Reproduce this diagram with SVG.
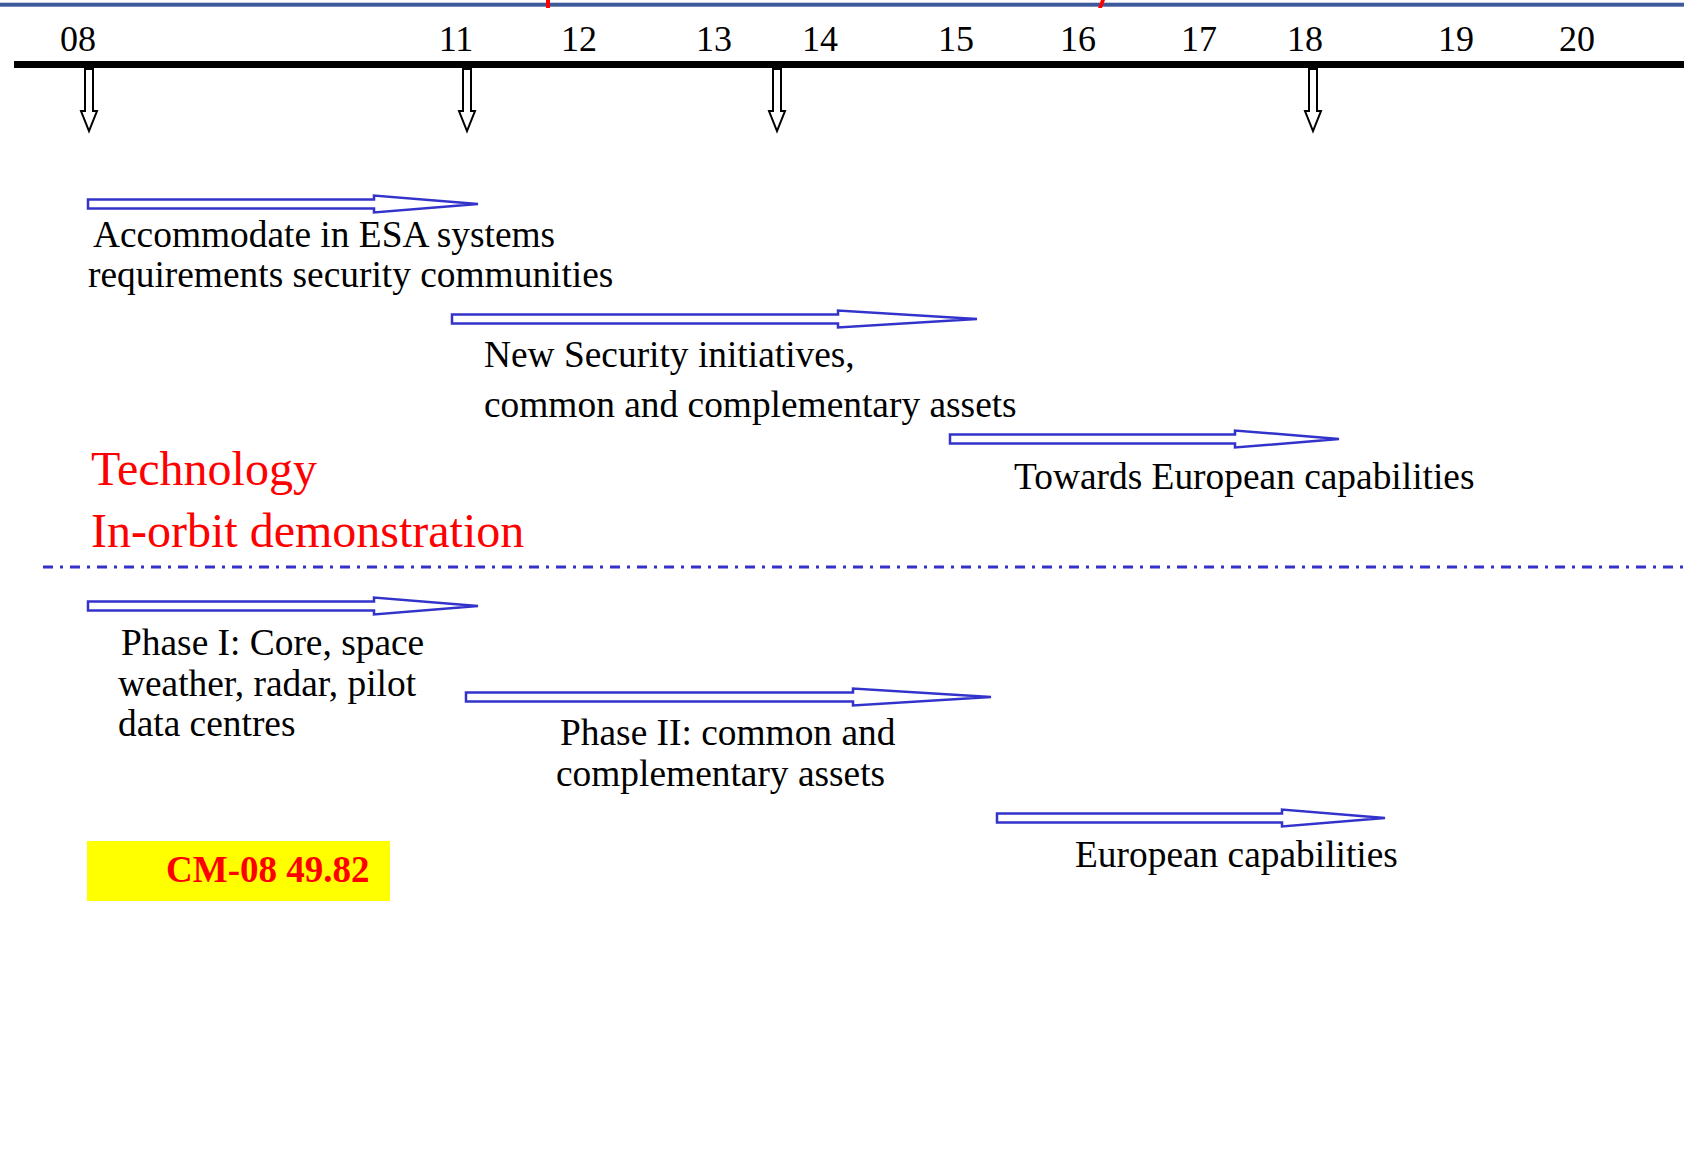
<svg xmlns="http://www.w3.org/2000/svg" width="1684" height="1169" viewBox="0 0 1684 1169">
  <style>
    .t { font-family: "Liberation Serif", "Times New Roman", serif; fill: #000; }
    .body { font-size: 37.4px; }
    .year { font-size: 36px; text-anchor: middle; }
    .red { font-size: 48px; fill: #ff0000; }
    .span { fill: #ffffff; stroke: #3333cc; stroke-width: 2.5; stroke-linejoin: miter; }
    .mark { fill: #ffffff; stroke: #000; stroke-width: 2; }
  </style>
  <defs>
    <!-- horizontal block arrow, 0..390 long, centred on y=0 -->
    <polygon id="span-short" class="span" points="0,-4.5 286,-4.5 286,-8.5 390,0 286,8.5 286,4.5 0,4.5"/>
    <!-- vertical milestone arrow pointing down -->
    <polygon id="milestone" class="mark" points="-4,0 4,0 4,42 8,42 0,62 -8,42 -4,42"/>
  </defs>

  <rect x="0" y="0" width="1684" height="1169" fill="#ffffff"/>

  <!-- header rule with red ticks -->
  <g id="header">
    <rect x="0" y="2.7" width="1684" height="4" fill="#3f5a9c"/>
    <rect x="546" y="0" width="4" height="8" fill="#ff0000"/>
    <polygon points="1101,0 1105,0 1102,8 1098,8" fill="#ff0000"/>
  </g>

  <!-- timeline axis and years -->
  <g id="timeline">
    <rect x="14" y="61" width="1670" height="7" fill="#000"/>
    <text class="t year" x="78" y="51">08</text>
    <text class="t year" x="456" y="51">11</text>
    <text class="t year" x="579" y="51">12</text>
    <text class="t year" x="714" y="51">13</text>
    <text class="t year" x="820" y="51">14</text>
    <text class="t year" x="956" y="51">15</text>
    <text class="t year" x="1078" y="51">16</text>
    <text class="t year" x="1199" y="51">17</text>
    <text class="t year" x="1305" y="51">18</text>
    <text class="t year" x="1456" y="51">19</text>
    <text class="t year" x="1577" y="51">20</text>
  </g>

  <g id="milestones">
    <use href="#milestone" x="89" y="69"/>
    <use href="#milestone" x="467" y="69"/>
    <use href="#milestone" x="777" y="69"/>
    <use href="#milestone" x="1313" y="69"/>
  </g>

  <!-- span arrows -->
  <g id="connectors">
    <use href="#span-short" x="88" y="204"/>
    <polygon class="span" points="452,314.5 838,314.5 838,310.5 977,319 838,327.5 838,323.5 452,323.5"/>
    <polygon class="span" points="950,434.5 1235,434.5 1235,430.5 1339,439 1235,447.5 1235,443.5 950,443.5"/>
    <use href="#span-short" x="88" y="606"/>
    <polygon class="span" points="466,692.5 853,692.5 853,688.5 991,697 853,705.5 853,701.5 466,701.5"/>
    <polygon class="span" points="997,813.5 1282,813.5 1282,809.5 1385,818 1282,826.5 1282,822.5 997,822.5"/>
  </g>

  <g id="accommodate">
    <text class="t body" x="93" y="247">Accommodate in ESA systems</text>
    <text class="t body" x="88" y="287">requirements security communities</text>
  </g>

  <g id="new-security">
    <text class="t body" x="484" y="367">New Security initiatives,</text>
    <text class="t body" x="484" y="417">common and complementary assets</text>
  </g>

  <g id="towards-european">
    <text class="t body" x="1014" y="489">Towards European capabilities</text>
  </g>

  <g id="technology">
    <text class="t red" x="91" y="485">Technology</text>
    <text class="t red" x="91" y="547">In-orbit demonstration</text>
  </g>

  <!-- section divider -->
  <line x1="43" y1="567" x2="1684" y2="567" stroke="#3333cc" stroke-width="3" stroke-dasharray="10,7,3,7"/>

  <g id="phase-1">
    <text class="t body" x="121" y="655">Phase I: Core, space</text>
    <text class="t body" x="118" y="696">weather, radar, pilot</text>
    <text class="t body" x="118" y="736">data centres</text>
  </g>

  <g id="phase-2">
    <text class="t body" x="560" y="745">Phase II: common and</text>
    <text class="t body" x="556" y="786">complementary assets</text>
  </g>

  <g id="european">
    <text class="t body" x="1075" y="867">European capabilities</text>
  </g>

  <g id="budget">
    <rect x="87" y="841" width="303" height="60" fill="#ffff00"/>
    <text class="t" x="166" y="882" font-size="37" font-weight="bold" style="fill:#ff0000">CM-08 49.82</text>
  </g>
</svg>
